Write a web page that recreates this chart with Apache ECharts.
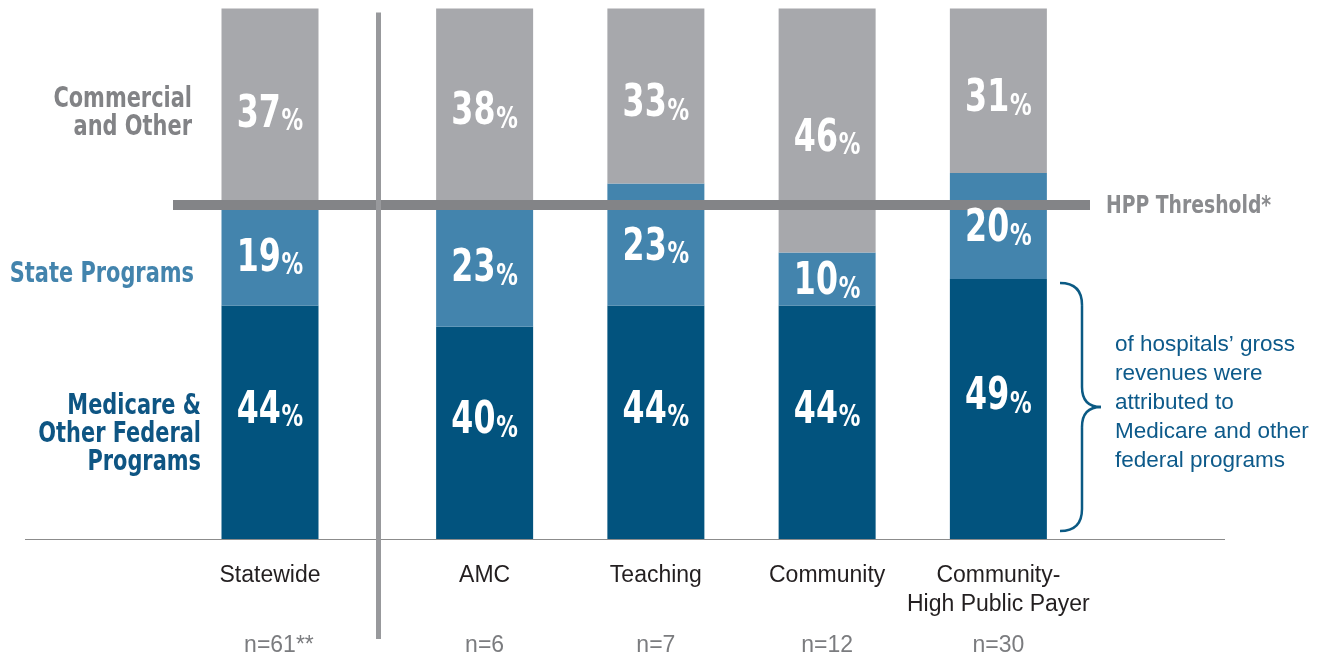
<!DOCTYPE html>
<html>
<head>
<meta charset="utf-8">
<script src="https://cdn.jsdelivr.net/npm/echarts@6/dist/echarts.min.js"></script>
<style>
  html, body { margin: 0; padding: 0; background: #ffffff; }
  #chart { width: 1324px; height: 657px; }
</style>
</head>
<body>
<div id="chart"></div>
<script>
// Payer mix of hospital gross revenues, by hospital cohort
const categories = ['Statewide', 'AMC', 'Teaching', 'Community', 'Community-\nHigh Public Payer'];
const sampleSizes = ['n=61**', 'n=6', 'n=7', 'n=12', 'n=30'];
const medicare = [44, 40, 44, 44, 49];
const statePrograms = [19, 23, 23, 10, 20];
const commercial = [37, 38, 33, 46, 31];
const hppThreshold = 63;
const braceValue = 49; // Medicare share of the Community-High Public Payer cohort

const COND = "'DejaVu Sans Condensed', 'DejaVu Sans', sans-serif";
const REGULAR = "'Liberation Sans', Arial, sans-serif";
const C_MED = '#02537e';
const C_STATE = '#4384ad';
const C_COMM = '#a7a8ac';
const C_LINE = '#838487';
const NARROW_X = 0.8;            // horizontal squeeze for the condensed bold lettering
const LABEL_DY = [-12, 3, 8];     // nudges for medicare / state / commercial value labels

const chart = echarts.init(document.getElementById('chart'), null, { renderer: 'canvas' });

// the statewide column sits in its own panel, left of the divider
const panels = [[0, 1], [1, 5]];

function barSeries(name, values, color, panel, stackClip) {
  return {
    name: name, type: 'bar', stack: 'mix' + panel,
    xAxisIndex: panel, yAxisIndex: panel,
    barWidth: 97, clip: stackClip,
    itemStyle: { color: color },
    data: values
  };
}

// value labels: one text per segment, placed at the segment's middle
function labelSeries(panel) {
  const [a, b] = panels[panel];
  const rows = [];
  for (let i = a; i < b; i++) {
    const segs = [medicare[i], statePrograms[i], commercial[i]];
    let base = 0;
    segs.forEach((v, k) => { rows.push([i - a, base, v, k]); base += v; });
  }
  return {
    type: 'custom', xAxisIndex: panel, yAxisIndex: panel, silent: true, z: 10,
    clip: false,
    data: rows,
    renderItem: (params, api) => {
      const v = api.value(2), k = api.value(3);
      const pt = api.coord([api.value(0), api.value(1) + v / 2]);
      return {
        type: 'text', x: pt[0], y: pt[1] + LABEL_DY[k], scaleX: NARROW_X,
        style: {
          x: 0, y: 0, align: 'center', verticalAlign: 'middle',
          text: '{v|' + v + '}{p|%}',
          rich: {
            v: { fontFamily: COND, fontWeight: 'bold', fontSize: 44, fill: '#ffffff', verticalAlign: 'bottom', lineHeight: 46 },
            p: { fontFamily: COND, fontWeight: 'bold', fontSize: 30, fill: '#ffffff', verticalAlign: 'bottom', lineHeight: 41, padding: [0, 0, 0, 1] }
          }
        }
      };
    }
  };
}

const catAxis = (panel) => ({
  type: 'category', gridIndex: panel, data: categories.slice(panels[panel][0], panels[panel][1]),
  axisLine: { show: false }, axisTick: { show: false },
  axisLabel: { margin: 22, fontFamily: REGULAR, fontSize: 23, lineHeight: 29, color: '#231f20', interval: 0 }
});
const nAxis = (panel) => ({
  type: 'category', gridIndex: panel, data: sampleSizes.slice(panels[panel][0], panels[panel][1]), position: 'bottom',
  axisLine: { show: false }, axisTick: { show: false },
  axisLabel: {
    margin: 95, interval: 0,
    // footnote stars hang to the right of the centred count
    formatter: (s) => s.endsWith('**') ? '{g|**}{t|' + s + '}' : '{t|' + s + '}',
    rich: {
      t: { fontFamily: REGULAR, fontSize: 23, lineHeight: 23, color: '#7b7c7f' },
      g: { fontFamily: REGULAR, fontSize: 23, lineHeight: 23, color: 'rgba(0,0,0,0)' }
    }
  }
});
const valAxis = (panel) => ({ type: 'value', gridIndex: panel, min: 0, max: 100, show: false, splitLine: { show: false } });

const series = [];
[0, 1].forEach((p) => {
  const [a, b] = panels[p];
  const clip = p !== 0;
  series.push(barSeries('Medicare & Other Federal Programs', medicare.slice(a, b), C_MED, p, clip));
  series.push(barSeries('State Programs', statePrograms.slice(a, b), C_STATE, p, clip));
  series.push(barSeries('Commercial and Other', commercial.slice(a, b), C_COMM, p, clip));
});

// HPP threshold drawn across both panels
series[2].markLine = {
  silent: true, symbol: ['none', 'none'],
  lineStyle: { color: C_LINE, width: 10, type: 'solid' },
  label: { show: false },
  data: [[{ x: 173, yAxis: hppThreshold }, { x: 1090, yAxis: hppThreshold }]]
};
series.push(labelSeries(0));
series.push(labelSeries(1));

chart.setOption({
  animation: false,
  backgroundColor: '#ffffff',
  grid: [
    { left: 170, width: 200, top: 8.5, bottom: 113.5 },
    { left: 399, width: 685, top: 8.5, bottom: 113.5 }
  ],
  xAxis: [catAxis(0), catAxis(1), nAxis(0), nAxis(1)],
  yAxis: [valAxis(0), valAxis(1)],
  series: series
});

// Decorations positioned from the chart's own scales
const baseY = chart.convertToPixel({ yAxisIndex: 0 }, 0);
const topY = chart.convertToPixel({ yAxisIndex: 0 }, 100);
const hppY = chart.convertToPixel({ yAxisIndex: 0 }, hppThreshold);
const brTop = chart.convertToPixel({ yAxisIndex: 1 }, braceValue) + 4;
const brBot = baseY - 8;
const brMid = (brTop + brBot) / 2;
const bx0 = 1060, bx1 = 1082, bx2 = 1101;
const braceStyle = { stroke: '#0b5a84', lineWidth: 2.5, fill: null };

const condText = (x, y, text, color, size) => ({
  type: 'text', x: x, y: y, scaleX: 0.83,
  style: { x: 0, y: 0, text: text, align: 'right', verticalAlign: 'middle', fontFamily: COND, fontWeight: 'bold', fontSize: size, lineHeight: 28, fill: color }
});

chart.setOption({
  graphic: [
    // baseline
    { type: 'line', z: 5, shape: { x1: 25, y1: baseY + 0.5, x2: 1225, y2: baseY + 0.5 }, style: { stroke: '#8c8c8c', lineWidth: 1.2 } },
    // panel divider
    { type: 'line', z: 6, shape: { x1: 378.5, y1: topY + 4, x2: 378.5, y2: 639 }, style: { stroke: '#98999c', lineWidth: 5 } },
    // left-hand legend labels
    condText(192, 114, 'Commercial\nand Other', '#828386', 28),
    condText(194, 275, 'State Programs', '#4384ad', 28),
    condText(201, 435, 'Medicare &\nOther Federal\nPrograms', '#0e5583', 28),
    // threshold caption
    { type: 'text', x: 1106, y: hppY + 2, scaleX: 0.87,
      style: { x: 0, y: 0, text: 'HPP Threshold*', align: 'left', verticalAlign: 'middle', fontFamily: COND, fontWeight: 'bold', fontSize: 24, fill: '#8a8b8e' } },
    // brace around the Medicare share of the high public payer cohort
    { type: 'bezierCurve', z: 5, shape: { x1: bx0, y1: brTop, cpx1: bx1, cpy1: brTop, x2: bx1, y2: brTop + 22 }, style: braceStyle },
    { type: 'line', z: 5, shape: { x1: bx1, y1: brTop + 22, x2: bx1, y2: brMid - 20 }, style: braceStyle },
    { type: 'bezierCurve', z: 5, shape: { x1: bx1, y1: brMid - 20, cpx1: bx1, cpy1: brMid, x2: bx2, y2: brMid }, style: braceStyle },
    { type: 'bezierCurve', z: 5, shape: { x1: bx2, y1: brMid, cpx1: bx1, cpy1: brMid, x2: bx1, y2: brMid + 20 }, style: braceStyle },
    { type: 'line', z: 5, shape: { x1: bx1, y1: brMid + 20, x2: bx1, y2: brBot - 22 }, style: braceStyle },
    { type: 'bezierCurve', z: 5, shape: { x1: bx1, y1: brBot - 22, cpx1: bx1, cpy1: brBot, x2: bx0, y2: brBot }, style: braceStyle },
    { type: 'text', x: 1115, y: brMid - 4,
      style: { text: 'of hospitals\u2019 gross\nrevenues were\nattributed to\nMedicare and other\nfederal programs', align: 'left', verticalAlign: 'middle', fontFamily: REGULAR, fontSize: 22.5, lineHeight: 29, fill: '#0d5a8a' } }
  ]
});
</script>
</body>
</html>
